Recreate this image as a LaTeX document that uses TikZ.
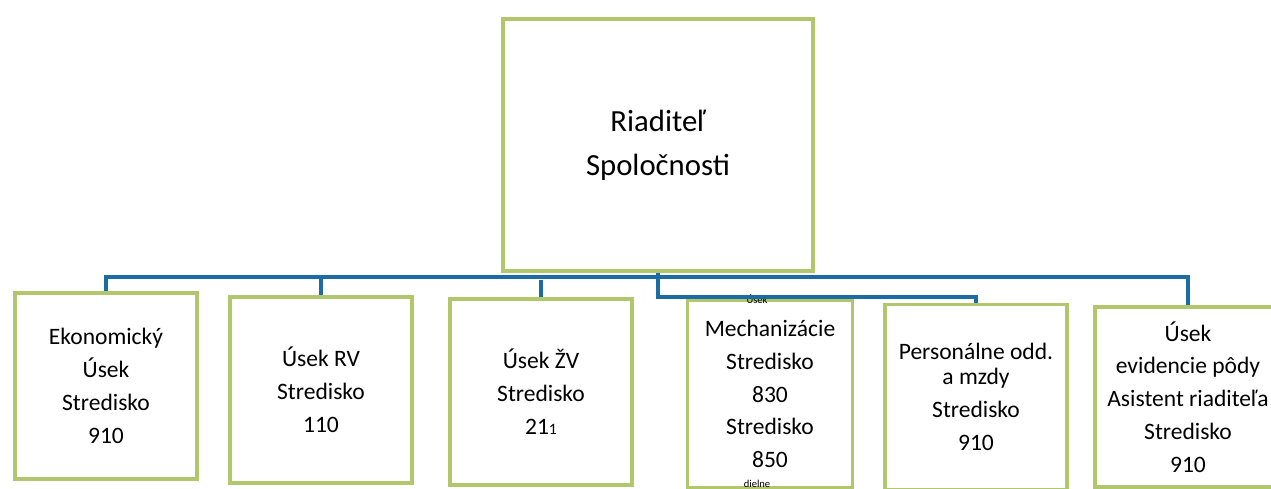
\documentclass[tikz,border=0pt]{standalone}
\usepackage{fontspec}
\setmainfont{Carlito}
\usetikzlibrary{positioning}
\definecolor{BoxGreen}{HTML}{B2C66C}
\definecolor{LineBlue}{HTML}{1B6BA5}

\begin{document}
\begin{tikzpicture}[x=0.02cm,y=-0.02cm]
      \tikzstyle{unit}=[draw=BoxGreen,line width=2.2pt,align=center,minimum width=3.64cm,minimum height=3.72cm,fill=white,font=\fontsize{13.4}{18.7}\selectfont]
      \tikzstyle{bus}=[draw=LineBlue,line width=2.6pt]
      \useasboundingbox (0,0) rectangle (1271,489);
      \node[unit,minimum width=6.2cm,minimum height=5.04cm,font=\fontsize{17.5}{25}\selectfont] (head) at (658,145) {Riaditeľ\\Spoločnosti};
      \node[unit] (eko) at (106,386) {Ekonomický\\Úsek\\Stredisko\\910};
      \node[unit] (rv) at (321,390) {Úsek RV\\Stredisko\\110};
      \node[unit] (zv) at (541,392) {Úsek ŽV\\Stredisko\\21{\fontsize{9}{9}\selectfont 1}};
      \node[unit,minimum width=3.3cm,minimum height=3.76cm] (mech) at (770,394) {Mechanizácie\\Stredisko\\830\\Stredisko\\850};
      \node[unit,minimum height=3.7cm] (pers) at (976,397) {Personálne odd.\\[-4.5pt]a mzdy\\Stredisko\\910};
      \node[unit,minimum width=3.72cm,minimum height=3.6cm] (asist) at (1188,397) {Úsek\\evidencie pôdy\\Asistent riaditeľa\\Stredisko\\910};
      \node[font=\fontsize{6}{6}\selectfont,inner sep=0pt] (mechtop) at (757,299) {Úsek};
      \node[font=\fontsize{6}{6}\selectfont,inner sep=0pt] (mechbot) at (757,484) {dielne};
      % connectors
      \draw[bus] (eko.north) -- ++(0,-14) -| (asist.north);
      \draw[bus] (rv.north) -- ++(0,-16);
      \draw[bus] (zv.north) -- ++(0,-17);
      \draw[bus] (head.south) -- ++(0,24) -| (pers.north);
    \end{tikzpicture}
\end{document}
